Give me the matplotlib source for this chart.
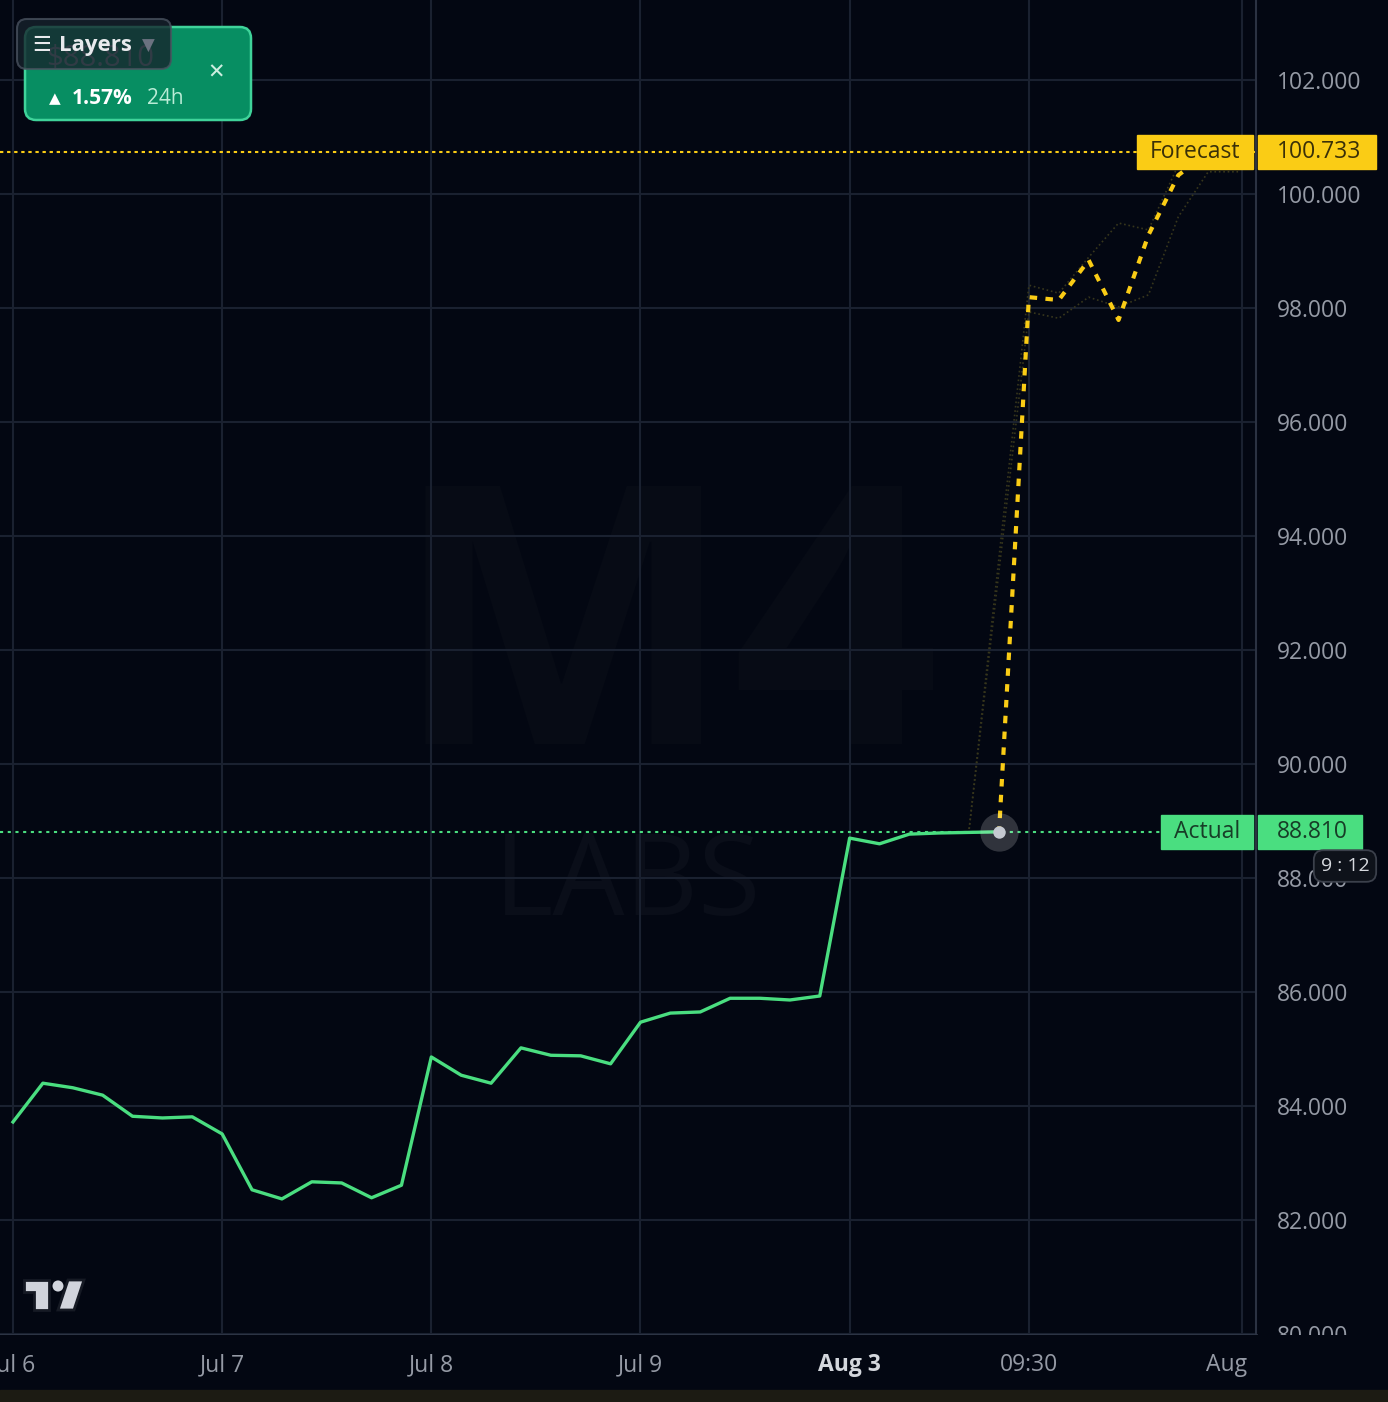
import matplotlib
matplotlib.use("Agg")
import matplotlib.pyplot as plt
from matplotlib.patches import Rectangle, FancyBboxPatch, Polygon, Circle
from matplotlib.transforms import blended_transform_factory

# ---- data ----
actual = [83.72, 84.40, 84.32, 84.19, 83.82, 83.79, 83.81, 83.51, 82.53, 82.37,
          82.67, 82.65, 82.39, 82.61, 84.86, 84.54, 84.40, 85.02, 84.89, 84.88,
          84.74, 85.47, 85.63, 85.65, 85.89, 85.89, 85.86, 85.93, 88.70, 88.60,
          88.77, 88.79, 88.80, 88.81]
forecast_idx = [33, 34, 35, 36, 37, 38, 39, 40]
forecast = [88.81, 98.19, 98.14, 98.84, 97.79, 99.28, 100.33, 100.733]
band_idx = [32, 34, 35, 36, 37, 38, 39, 40, 41]
band_upper = [88.86, 98.40, 98.26, 98.89, 99.49, 99.37, 100.51, 100.77, 100.77]
band_lower = [88.86, 97.93, 97.82, 98.19, 98.02, 98.23, 99.60, 100.39, 100.39]
last_actual = 88.810
last_forecast = 100.733
price_ticks = [80, 82, 84, 86, 88, 90, 92, 94, 96, 98, 100, 102]
time_tick_pos = [0, 7, 14, 21, 28, 34, 40.6]
time_tick_labels = ["Jul 6", "Jul 7", "Jul 8", "Jul 9", "Aug 3", "09:30", "Aug"]
grid_x = [0, 7, 14, 21, 28, 34, 41.13]
change_pct = "1.57%"

# ---- styling ----
BG = "#030712"
GRID = "#1a2130"
GREEN = "#4ade80"
YELLOW = "#facc15"
LABEL = "#959aa5"
FONT = ["Open Sans", "DejaVu Sans"]
plt.rcParams["font.family"] = FONT

W, H = 1388, 1402
fig = plt.figure(figsize=(W / 100, H / 100), dpi=100, facecolor=BG)


def fx(x):
    return x / W


def fy(y):
    return 1 - y / H


# pixel -> index mapping of the time scale
X0, DX = 13.0, 29.88


def idx(px):
    return (px - X0) / DX


# pixel -> price mapping
def price(py):
    return 102 - (py - 80) / 57.0


ax = fig.add_axes([0, fy(1335), fx(1256), 1335 / H])
ax.set_facecolor(BG)
ax.set_xlim(idx(0), idx(1256))
ax.set_ylim(price(1335), price(0))

ax.set_xticks(grid_x)
ax.set_yticks(price_ticks)
ax.grid(True, color=GRID, lw=1.5)
ax.set_axisbelow(True)
ax.yaxis.tick_right()
ax.set_yticklabels([f"{v:.3f}" for v in price_ticks])
ax.tick_params(axis="y", length=0, pad=15, labelsize=16.5, labelcolor=LABEL)
ax.tick_params(axis="x", length=0, labelbottom=False)
for s in ["top", "left"]:
    ax.spines[s].set_visible(False)
ax.spines["right"].set_color("#2b3242")
ax.spines["right"].set_linewidth(1.5)
ax.spines["bottom"].set_color("#2f3747")
ax.spines["bottom"].set_linewidth(2)

# watermark
bt = blended_transform_factory(ax.transAxes, ax.transData)
ax.text(0.50, price(885), "LABS", transform=bt, ha="center", va="center",
        fontsize=82, color="#0a0e19", zorder=0.5)
ax.text(0.53, price(650), "M4", transform=bt, ha="center", va="center",
        fontsize=260, fontweight="bold", color="#070b15", zorder=0.4)

# reference lines
ax.axhline(last_actual, color=GREEN, lw=1.5, ls=(0, (1.5, 2.2)), zorder=2)
ax.axhline(last_forecast, color=YELLOW, lw=1.5, ls=(0, (1.6, 1.8)), zorder=2)

# confidence bands
ax.plot(band_idx, band_upper, color="#37361c", lw=1.2, ls=":", zorder=2.5)
ax.plot(band_idx, band_lower, color="#37361c", lw=1.2, ls=":", zorder=2.5)

# actual + forecast
ax.plot(range(len(actual)), actual, color=GREEN, lw=2.4, solid_joinstyle="round", zorder=3)
ax.plot(forecast_idx, forecast, color=YELLOW, lw=3, ls=(0.5, (1.8, 2.0)),
        dash_capstyle="butt", zorder=3.5)
ax.scatter([len(actual) - 1], [last_actual], s=760, color="#ffffff", alpha=0.18, lw=0, zorder=4)
ax.scatter([len(actual) - 1], [last_actual], s=80, color="#c5c9d1", lw=0, zorder=4.5)

# price tags
tag_h = 34 / 57.0


def tag(y, x_left, name, x_val_right, color, tcolor):
    ax.add_patch(Rectangle((x_left / 1256, y - tag_h / 2), (1253 - x_left) / 1256, tag_h,
                           transform=bt, color=color, clip_on=False, zorder=6))
    ax.add_patch(Rectangle((1258 / 1256, y - tag_h / 2), (x_val_right - 1258) / 1256, tag_h,
                           transform=bt, color=color, clip_on=False, zorder=6))
    ax.text((x_left + 1253) / 2 / 1256, y, name, transform=bt, ha="center", va="center",
            fontsize=16.5, color=tcolor, clip_on=False, zorder=7)
    ax.text(1277 / 1256, y, f"{y:.3f}", transform=bt, ha="left", va="center",
            fontsize=16.5, color=tcolor, clip_on=False, zorder=7)


tag(last_forecast, 1137, "Forecast", 1376, YELLOW, "#3a3008")
tag(last_actual, 1161, "Actual", 1362, GREEN, "#173d27")

ax.text(1345 / 1256, price(866), "9 : 12", transform=bt, ha="center", va="center",
        fontsize=14, color="#d6d9de", clip_on=False, zorder=7,
        bbox=dict(boxstyle="round,pad=0.35,rounding_size=0.5", fc="#0e121a", ec="#3b404b", lw=1.3))

# time scale
ax2 = fig.add_axes([0, fy(1390), 1, 55 / H], zorder=3)
ax2.set_facecolor(BG)
ax2.set_xlim(idx(0), idx(W))
ax2.set_ylim(0, 1)
ax2.set_yticks([])
for s in ax2.spines.values():
    s.set_visible(False)
ax2.set_xticks(time_tick_pos)
ax2.set_xticklabels(time_tick_labels)
ax2.tick_params(axis="x", length=0, pad=-18, labelsize=16.5, labelcolor=LABEL)
for t in ax2.get_xticklabels():
    t.set_va("center")
    if t.get_text() == "Aug 3":
        t.set_fontweight("bold")
        t.set_color("#d3d6dc")

# bottom strip
fig.add_artist(Rectangle((0, 0), 1, 12 / H, transform=fig.transFigure, color="#1c1b13", zorder=4))

# TradingView-like logo
logo_c = "#d1d4dc"
fig.add_artist(Polygon([(fx(24), fy(1280)), (fx(49), fy(1280)), (fx(49), fy(1310)), (fx(34), fy(1310)),
                        (fx(34), fy(1292)), (fx(24), fy(1292))], closed=True, transform=fig.transFigure,
                       fc=logo_c, ec="#161a24", lw=2, zorder=5))
fig.add_artist(Circle((fx(58), fy(1286)), 5.5 / W, transform=fig.transFigure, fc=logo_c, ec="none", zorder=5))
fig.add_artist(Polygon([(fx(68), fy(1280)), (fx(84), fy(1280)), (fx(74), fy(1310)), (fx(58), fy(1310))],
                       closed=True, transform=fig.transFigure, fc=logo_c, ec="#161a24", lw=2, zorder=5))

# top-left badge
fig.add_artist(FancyBboxPatch((fx(25), fy(120)), fx(226), 93 / H,
                              boxstyle="round,pad=0,rounding_size=0.008", transform=fig.transFigure,
                              fc="#078e62", ec="#3fd39a", lw=1.8, zorder=5))
fig.text(fx(46), fy(58), "$88.810", fontsize=21, color="#8d979f", ha="left", va="center", zorder=5.5)
fig.text(fx(216), fy(73), "\u2715", fontsize=15, color="#cdeee0", ha="center", va="center",
         family=["DejaVu Sans"], zorder=6)
fig.text(fx(49), fy(99), "\u25B2", fontsize=11, color="#ffffff", ha="left", va="center",
         family=["DejaVu Sans"], zorder=6)
fig.text(fx(72), fy(99), change_pct, fontsize=15, color="#ffffff", fontweight="bold",
         ha="left", va="center", zorder=6)
fig.text(fx(147), fy(99), "24h", fontsize=15, color="#b9ecd6", ha="left", va="center", zorder=6)

fig.add_artist(FancyBboxPatch((fx(17), fy(69)), fx(154), 50 / H,
                              boxstyle="round,pad=0,rounding_size=0.007", transform=fig.transFigure,
                              fc="#17222c", ec="#4a5360", lw=1.5, alpha=0.78, zorder=7))
fig.text(fx(32), fy(45), "\u2630", fontsize=15, color="#e8eaed", ha="left", va="center",
         family=["DejaVu Sans"], zorder=8)
fig.text(fx(59), fy(45), "Layers", fontsize=16, color="#e8eaed", fontweight="bold",
         ha="left", va="center", zorder=8)
fig.text(fx(142), fy(46), "\u25BC", fontsize=12, color="#6b7280", ha="left", va="center",
         family=["DejaVu Sans"], zorder=8)

fig.savefig("out.png", dpi=100, facecolor=BG)
